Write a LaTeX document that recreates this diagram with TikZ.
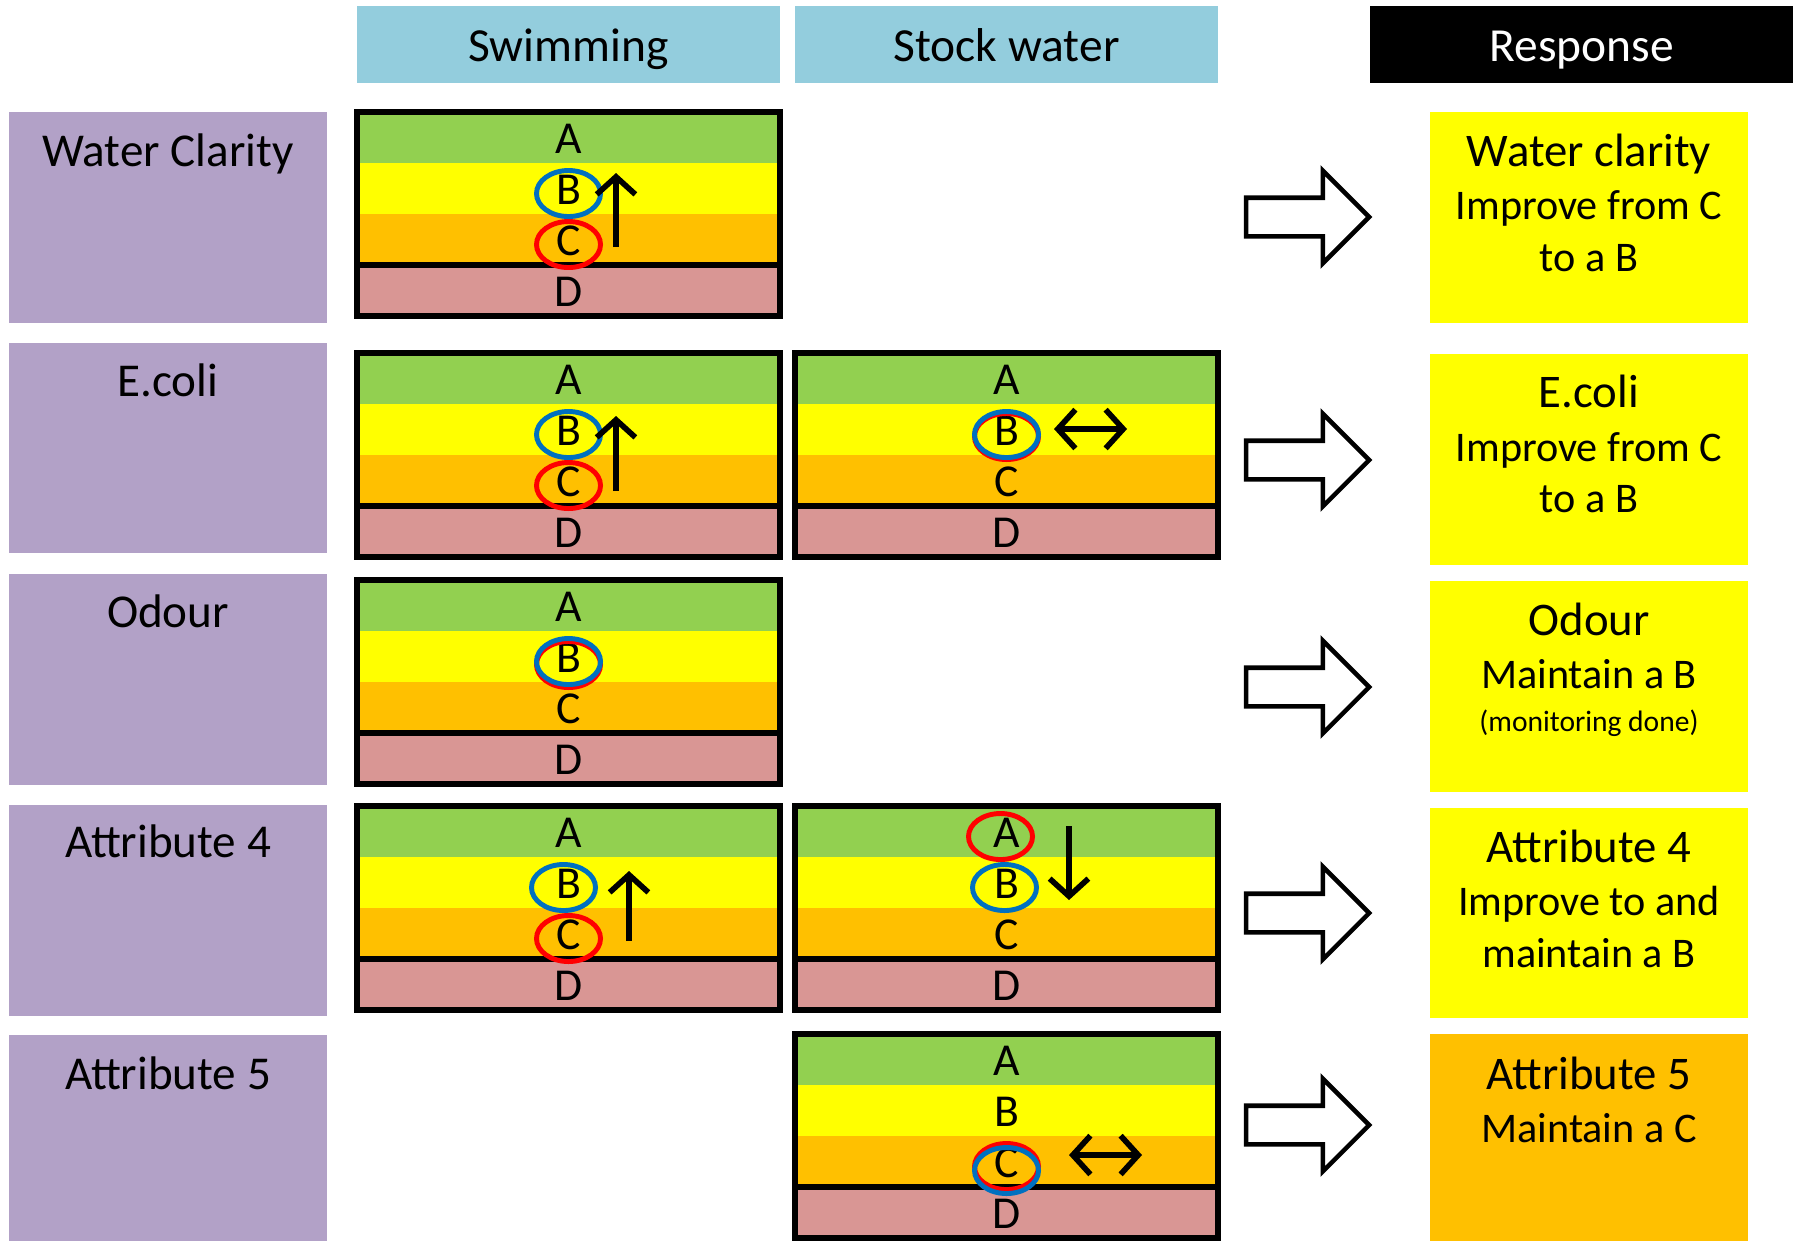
\documentclass[tikz,border=0pt]{standalone}
\usepackage{fontspec}
\setmainfont{Carlito}
\usetikzlibrary{shapes.geometric,shapes.arrows,arrows.meta}

\definecolor{bandA}{RGB}{146,208,80}
\definecolor{bandB}{RGB}{255,255,0}
\definecolor{bandC}{RGB}{255,192,0}
\definecolor{bandD}{RGB}{217,150,148}
\definecolor{attrfill}{RGB}{178,161,199}
\definecolor{usefill}{RGB}{147,205,221}
\definecolor{ringblue}{RGB}{0,112,192}
\definecolor{ringred}{RGB}{255,0,0}

\begin{document}
\begin{tikzpicture}[x=0.01cm,y=-0.01cm]
    \useasboundingbox (0,0) rectangle (1804,1241);
    \begin{scope}
        \tikzset{
            usehead/.style={fill=usefill, minimum width=4.23cm, minimum height=0.77cm, inner sep=0},
            headtxt/.style={font=\fontsize{13.5}{16}\selectfont, text height=9.6pt, text depth=0pt},
            attrbox/.style={fill=attrfill, minimum width=3.18cm, inner sep=0},
            attrtxt/.style={font=\fontsize{13.4}{16}\selectfont, text height=0.644em, text depth=0pt, yshift=-0.035cm},
            grade/.style={font=\fontsize{13}{15}\selectfont, text height=0.644em, text depth=0pt, inner sep=0, yshift=-0.045cm},
            ring/.style={ellipse, line width=1.4pt, minimum width=0.64cm, minimum height=0.46cm, inner sep=0},
            trend/.style={line width=1.6pt, -{Straight Barb[length=5pt,width=11pt,line width=1.6pt]}},
            both/.style={line width=1.6pt, {Straight Barb[length=5pt,width=11pt,line width=1.6pt]}-{Straight Barb[length=5pt,width=11pt,line width=1.6pt]}},
            hollow/.style={single arrow, draw, line width=1.3pt, minimum height=1.23cm, inner xsep=0, inner ysep=0.17cm,
                single arrow head extend=0.27cm, single arrow tip angle=90},
            respbox/.style={minimum width=3.18cm, inner sep=0},
            rtitle/.style={font=\fontsize{13.3}{16}\selectfont, text height=0.644em, text depth=0pt, yshift=-0.035cm},
            rnote/.style={font=\fontsize{12}{14}\selectfont, text height=0.644em, text depth=0pt, yshift=-0.025cm},
            rsmall/.style={font=\fontsize{8.4}{10}\selectfont, text height=0.644em, text depth=0pt, yshift=-0.015cm}
        }

        % Column headings
        \node [usehead, headtxt] (swim) at (568.5,44.5) {Swimming};
        \node [usehead, headtxt] (stock) at (1006.5,44.5) {Stock water};
        \node [usehead, headtxt, fill=black, text=white] (resp) at (1581.5,44.5) {Response};

        % Attribute boxes on the left
        \node [attrbox, minimum height=2.11cm] (w1) at (168,217.5) {};
        \node [attrbox, minimum height=2.10cm] (w2) at (168,448) {};
        \node [attrbox, minimum height=2.11cm] (w3) at (168,679.5) {};
        \node [attrbox, minimum height=2.11cm] (w4) at (168,910.5) {};
        \node [attrbox, minimum height=2.06cm] (w5) at (168,1138) {};
        \node [attrtxt] at (168,152) {Water Clarity};
        \node [attrtxt] at (168,382) {E.coli};
        \node [attrtxt] at (168,613) {Odour};
        \node [attrtxt] at (168,843) {Attribute 4};
        \node [attrtxt] at (168,1075) {Attribute 5};

        % Grade bands A to D
        \foreach \n/\x/\y in {s1/357/112, s2/357/353, k2/795/353, s3/357/580, s4/357/806, k4/795/806, k5/795/1034} {
            \fill [bandA] (\x,\y) rectangle +(423,51);
            \fill [bandB] (\x,\y+51) rectangle +(423,51);
            \fill [bandC] (\x,\y+102) rectangle +(423,51);
            \fill [bandD] (\x,\y+153) rectangle +(423,51);
            \draw [line width=1.5pt] (\x,\y) rectangle +(423,204);
            \draw [line width=1.5pt] (\x,\y+153) -- +(423,0);
            \node [grade] (\n-A) at (\x+211.5,\y+26) {A};
            \node [grade] (\n-B) at (\x+211.5,\y+77) {B};
            \node [grade] (\n-C) at (\x+211.5,\y+128) {C};
            \node [grade] (\n-D) at (\x+211.5,\y+179) {D};
        }

        % Current state (red) and target (blue)
        \node [ring, draw=ringblue] at (s1-B) {};
        \node [ring, draw=ringred] at (s1-C) {};
        \node [ring, draw=ringblue] at (s2-B) {};
        \node [ring, draw=ringred] at (s2-C) {};
        \node [ring, draw=ringred, yshift=-0.02cm] at (k2-B) {};
        \node [ring, draw=ringblue] at (k2-B) {};
        \node [ring, draw=ringred, yshift=-0.03cm] at (s3-B) {};
        \node [ring, draw=ringblue] at (s3-B) {};
        \node [ring, draw=ringblue, xshift=-0.05cm] at (s4-B) {};
        \node [ring, draw=ringred] at (s4-C) {};
        \node [ring, draw=ringred, xshift=-0.06cm] at (k4-A) {};
        \node [ring, draw=ringblue, xshift=-0.02cm] at (k4-B) {};
        \node [ring, draw=ringred] at (k5-C) {};
        \node [ring, draw=ringblue, yshift=-0.04cm] at (k5-C) {};

        % Direction of change
        \coordinate (s1-from) at (616,247);
        \coordinate (s1-to) at (616,173);
        \coordinate (s2-from) at (616,491);
        \coordinate (s2-to) at (616,416);
        \coordinate (s4-from) at (629,941);
        \coordinate (s4-to) at (629,871);
        \coordinate (k4-from) at (1069,826);
        \coordinate (k4-to) at (1069,900);
        \coordinate (k2-left) at (1054,429);
        \coordinate (k2-right) at (1127,429);
        \coordinate (k5-left) at (1069,1155);
        \coordinate (k5-right) at (1142,1155);
        \draw [trend] (s1-from) -- (s1-to);
        \draw [trend] (s2-from) -- (s2-to);
        \draw [trend] (s4-from) -- (s4-to);
        \draw [trend] (k4-from) -- (k4-to);
        \draw [both] (k2-left) -- (k2-right);
        \draw [both] (k5-left) -- (k5-right);

        % Hollow arrows to the responses
        \node [hollow] (a1) at (1298,217) {};
        \node [hollow] (a2) at (1298,460) {};
        \node [hollow] (a3) at (1298,687) {};
        \node [hollow] (a4) at (1298,913) {};
        \node [hollow] (a5) at (1298,1125) {};

        % Response boxes
        \node [respbox, fill=bandB, minimum height=2.11cm] (r1) at (1589,217.5) {};
        \node [respbox, fill=bandB, minimum height=2.11cm] (r2) at (1589,459.5) {};
        \node [respbox, fill=bandB, minimum height=2.11cm] (r3) at (1589,686.5) {};
        \node [respbox, fill=bandB, minimum height=2.10cm] (r4) at (1589,913) {};
        \node [respbox, fill=bandC, minimum height=2.07cm] (r5) at (1589,1137.5) {};

        % Response texts
        \node [rtitle] at (1589,152) {Water clarity};
        \node [rnote] at (1589,206) {Improve from C};
        \node [rnote] at (1589,258) {to a B};
        \node [rtitle] at (1589,393) {E.coli};
        \node [rnote] at (1589,448) {Improve from C};
        \node [rnote] at (1589,499) {to a B};
        \node [rtitle] at (1589,621) {Odour};
        \node [rnote] at (1589,675) {Maintain a B};
        \node [rsmall] at (1589,719) {(monitoring done)};
        \node [rtitle] at (1589,848) {Attribute 4};
        \node [rnote] at (1589,902) {Improve to and};
        \node [rnote] at (1589,954) {maintain a B};
        \node [rtitle] at (1589,1075) {Attribute 5};
        \node [rnote] at (1589,1129) {Maintain a C};
    \end{scope}
\end{tikzpicture}
\end{document}
